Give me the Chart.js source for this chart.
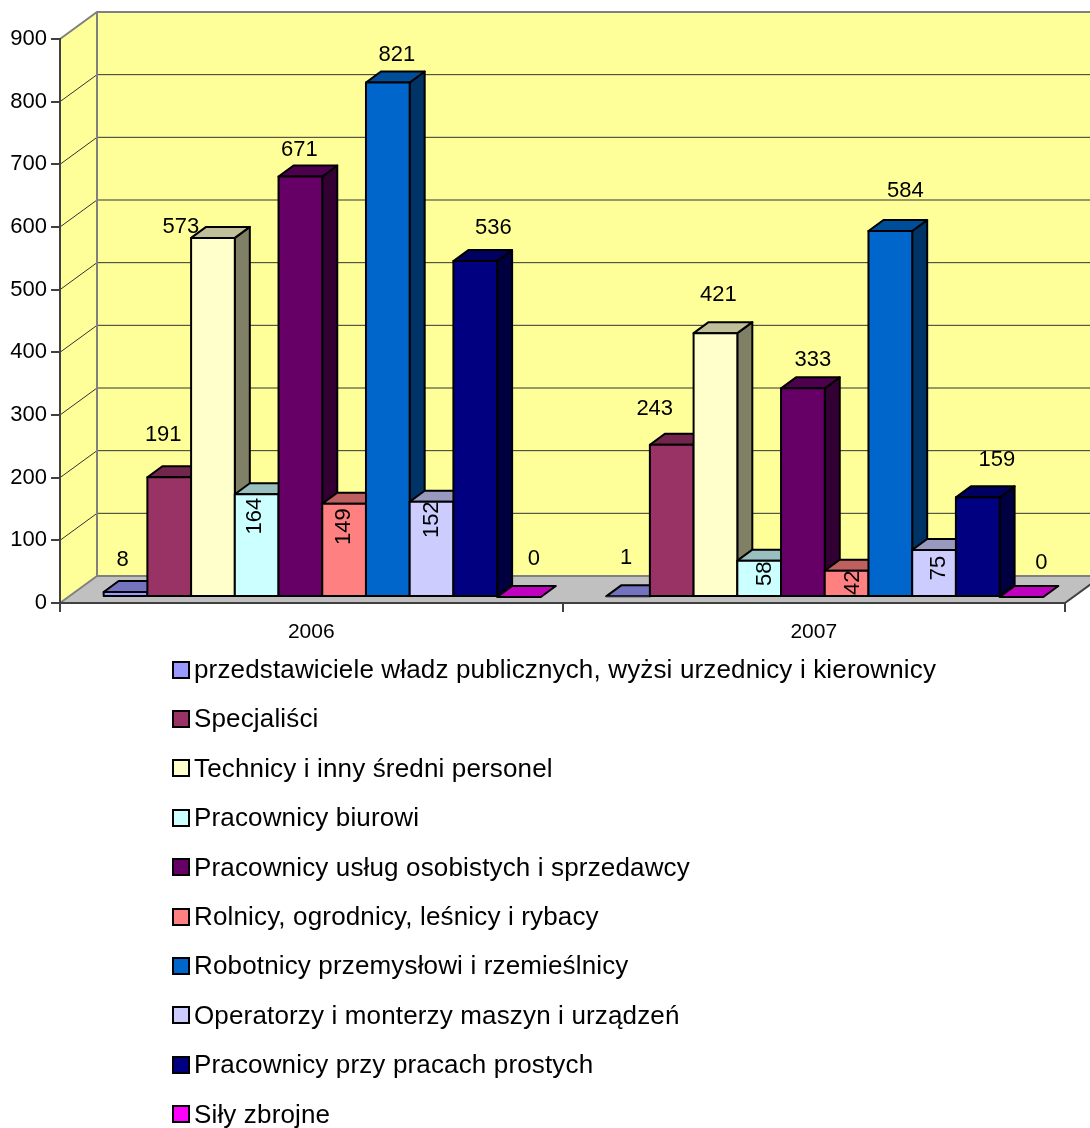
<!DOCTYPE html>
<html lang="pl">
<head>
<meta charset="utf-8">
<title>Pracujący według grup zawodów</title>
<style>
  body { margin: 0; background: #fff; width: 1090px; height: 1128px; position: relative; overflow: hidden; }
  canvas { position: absolute; left: 0; top: 0; }
  #legend { position: absolute; left: 172px; top: 645px; margin: 0; padding: 0; list-style: none;
            font: 26px "Liberation Sans", Arial, sans-serif; letter-spacing: 0.15px; color: #000; }
  #legend li { height: 49.4px; line-height: 49.4px; white-space: nowrap; display: flex; align-items: center; }
  #legend i { width: 14px; height: 14px; border: 2px solid #000; margin-right: 4px; flex: none; }
</style>
</head>
<body>
<canvas id="chart" width="1090" height="1128"></canvas>
<ul id="legend"></ul>
<script src="https://cdn.jsdelivr.net/npm/chart.js@4/dist/chart.umd.min.js"></script>
<script>
const categories = ['2006', '2007'];
const seriesNames = [
  'przedstawiciele władz publicznych, wyżsi urzednicy i kierownicy',
  'Specjaliści',
  'Technicy i inny średni personel',
  'Pracownicy biurowi',
  'Pracownicy usług osobistych i sprzedawcy',
  'Rolnicy, ogrodnicy, leśnicy i rybacy',
  'Robotnicy przemysłowi i rzemieślnicy',
  'Operatorzy i monterzy maszyn i urządzeń',
  'Pracownicy przy pracach prostych',
  'Siły zbrojne'
];
const values2006 = [8, 191, 573, 164, 671, 149, 821, 152, 536, 0];
const values2007 = [1, 243, 421, 58, 333, 42, 584, 75, 159, 0];
const seriesColors = ['#9999ff', '#993366', '#ffffcc', '#ccffff', '#660066',
                      '#ff8080', '#0066cc', '#ccccff', '#000080', '#ff00ff'];

// Series whose value is written sideways inside the bar
const rotatedSeries = [3, 5, 7];
// Label nudges from the top centre of each bar [dx, dy], per year
const labelNudge2006 = [[-3, -32], [-6, -42], [-32, -11], [-2, 22], [-1, -27], [0, 23], [9, -28], [0, 18], [18, -33], [15, -38]];
const labelNudge2007 = [[-2, -38], [-17, -36], [3, -38], [6, 13], [10, -28], [6, 12], [15, -40], [5, 18], [19, -37], [20, -34]];

// Fake perspective of the old office chart
const wallDepth = { x: 37, y: -27 };
const barDepth = { x: 15, y: -11 };
const barShift = { x: 11, y: -6 };

function shade(hex, factor) {
  const n = parseInt(hex.slice(1), 16);
  const c = [n >> 16, (n >> 8) & 255, n & 255].map(v => Math.round(v * factor));
  return 'rgb(' + c.join(',') + ')';
}

function poly(ctx, pts, fill, stroke, lineWidth) {
  ctx.beginPath();
  pts.forEach((p, i) => (i ? ctx.lineTo(p[0], p[1]) : ctx.moveTo(p[0], p[1])));
  ctx.closePath();
  if (fill) { ctx.fillStyle = fill; ctx.fill(); }
  if (stroke) { ctx.strokeStyle = stroke; ctx.lineWidth = lineWidth; ctx.stroke(); }
}

const walls = {
  id: 'walls',
  beforeDraw(chart) {
    const { ctx, chartArea: a, scales: { y } } = chart;
    const dx = wallDepth.x, dy = wallDepth.y;
    ctx.save();
    poly(ctx, [[a.left, a.top], [a.left + dx, a.top + dy], [a.left + dx, a.bottom + dy], [a.left, a.bottom]], '#ffff99');
    ctx.fillStyle = '#ffff99';
    ctx.fillRect(a.left + dx, a.top + dy, a.width, a.height);
    poly(ctx, [[a.left, a.bottom], [a.left + dx, a.bottom + dy], [a.right + dx, a.bottom + dy], [a.right, a.bottom]], '#c0c0c0');

    // gridlines run along the back wall and down the side wall
    y.ticks.forEach(t => {
      if (t.value === 0 || t.value === y.max) return;
      const py = y.getPixelForValue(t.value);
      ctx.strokeStyle = '#333';
      ctx.lineWidth = 1;
      ctx.beginPath();
      ctx.moveTo(a.left, py);
      ctx.lineTo(a.left + dx, py + dy);
      ctx.lineTo(a.right + dx, py + dy);
      ctx.stroke();
    });

    // wall outlines
    ctx.strokeStyle = '#808080';
    ctx.lineWidth = 2;
    ctx.beginPath();
    ctx.moveTo(a.left, a.top);
    ctx.lineTo(a.left + dx, a.top + dy);
    ctx.lineTo(a.right + dx, a.top + dy);
    ctx.moveTo(a.left + dx, a.top + dy);
    ctx.lineTo(a.left + dx, a.bottom + dy);
    ctx.lineTo(a.right + dx, a.bottom + dy);
    ctx.moveTo(a.left, a.bottom);
    ctx.lineTo(a.left + dx, a.bottom + dy);
    ctx.stroke();
    ctx.strokeStyle = '#404040';
    ctx.beginPath();
    ctx.moveTo(a.right, a.bottom);
    ctx.lineTo(a.right + dx, a.bottom + dy);
    ctx.stroke();
    ctx.restore();
  }
};

const bars3d = {
  id: 'bars3d',
  // datasets have to paint left to right so each bar covers the side of the one before
  beforeDatasetsDraw(chart) {
    const ctx = chart.ctx;
    const dx = barDepth.x, dy = barDepth.y;
    ctx.save();
    ctx.translate(barShift.x, barShift.y);
    ctx.lineJoin = 'round';
    chart.data.datasets.forEach((ds, i) => {
      const meta = chart.getDatasetMeta(i);
      const color = seriesColors[i];
      meta.data.forEach(bar => {
        const l = bar.x - bar.width / 2, r = bar.x + bar.width / 2;
        if (bar.base - bar.y > 0.5) {
          poly(ctx, [[r, bar.y], [r + dx, bar.y + dy], [r + dx, bar.base + dy], [r, bar.base]], shade(color, 0.5), '#000', 2);
        }
        poly(ctx, [[l, bar.y], [l + dx, bar.y + dy], [r + dx, bar.y + dy], [r, bar.y]], shade(color, 0.75), '#000', 2);
      });
      meta.controller.draw();
      // outline sits on the bar edge, Chart.js would inset it
      ctx.strokeStyle = '#000';
      ctx.lineWidth = 2;
      meta.data.forEach(bar => {
        if (bar.base - bar.y > 0.5) {
          ctx.strokeRect(bar.x - bar.width / 2, bar.y, bar.width, bar.base - bar.y);
        }
      });
    });

    // value labels, on top of every bar
    ctx.fillStyle = '#000';
    ctx.font = '22px "Liberation Sans", Arial, sans-serif';
    ctx.textAlign = 'center';
    ctx.textBaseline = 'middle';
    chart.data.datasets.forEach((ds, i) => {
      chart.getDatasetMeta(i).data.forEach((bar, j) => {
        const nudge = (j === 0 ? labelNudge2006 : labelNudge2007)[i];
        const lx = bar.x + nudge[0], ly = bar.y + nudge[1];
        ctx.save();
        ctx.translate(lx, ly);
        if (rotatedSeries.includes(i)) ctx.rotate(-Math.PI / 2);
        ctx.fillText(String(ds.data[j]), 0, 0);
        ctx.restore();
      });
    });
    ctx.restore();
    return false;
  }
};

const datasets = seriesNames.map((name, i) => ({
  label: name,
  data: [values2006[i], values2007[i]],
  backgroundColor: seriesColors[i],
  borderWidth: 0
}));

new Chart(document.getElementById('chart'), {
  type: 'bar',
  data: { labels: categories, datasets },
  plugins: [walls, bars3d],
  options: {
    responsive: false,
    animation: false,
    devicePixelRatio: 1,
    categoryPercentage: 0.87,
    barPercentage: 1,
    layout: { padding: { top: 39, right: 25, left: 0, bottom: 0 } },
    plugins: { legend: { display: false }, tooltip: { enabled: false } },
    scales: {
      x: {
        afterFit: s => { s.height = 525; },
        grid: { drawOnChartArea: false, color: '#404040', tickLength: 9, lineWidth: 2 },
        border: { color: '#404040', width: 2 },
        ticks: { color: '#000', padding: 8, font: { family: '"Liberation Sans"', size: 21 } }
      },
      y: {
        min: 0,
        max: 900,
        afterFit: s => { s.width = 60; },
        grid: { drawOnChartArea: false, color: '#404040', tickLength: 9, lineWidth: 2 },
        border: { color: '#404040', width: 2 },
        ticks: { stepSize: 100, color: '#000', padding: 4, font: { family: '"Liberation Sans"', size: 22 } }
      }
    }
  }
});

// Legend is a single column under the plot
const legend = document.getElementById('legend');
seriesNames.forEach((name, i) => {
  const li = document.createElement('li');
  const swatch = document.createElement('i');
  swatch.style.background = seriesColors[i];
  li.appendChild(swatch);
  li.appendChild(document.createTextNode(name));
  legend.appendChild(li);
});
</script>
</body>
</html>
